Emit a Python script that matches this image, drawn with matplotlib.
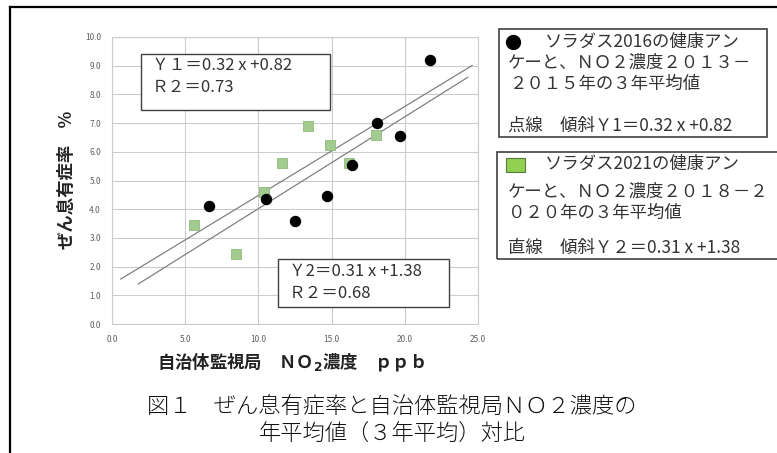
import matplotlib
matplotlib.use("Agg")
import matplotlib.pyplot as plt
from matplotlib.patches import Rectangle
from matplotlib.lines import Line2D
import numpy as np

plt.rcParams['font.family'] = ['Noto Sans CJK JP', 'DejaVu Sans']
plt.rcParams['mathtext.fontset'] = 'dejavusans'

# === data ===
# ソラダス2016 (NO2 2013-2015 3年平均)
no2_2016 = [6.6, 10.5, 12.5, 14.7, 16.4, 18.1, 19.7, 21.7]
rate_2016 = [4.1, 4.35, 3.6, 4.45, 5.55, 7.0, 6.55, 9.2]
# ソラダス2021 (NO2 2018-2020 3年平均)
no2_2021 = [5.6, 8.5, 10.4, 11.6, 13.4, 14.9, 16.2, 18.0]
rate_2021 = [3.45, 2.45, 4.6, 5.6, 6.9, 6.25, 5.6, 6.6]

# regression lines
fit1 = (0.32, 0.82)
fit2 = (0.31, 1.38)
fit1_x = [1.8, 24.3]
fit2_x = [0.6, 24.6]

x_ticks = [0, 5, 10, 15, 20, 25]
y_ticks = list(range(0, 11))

W, H = 777, 453


def fx(x):
    return x / W


def fy(y):
    return 1 - y / H


fig = plt.figure(figsize=(W / 100, H / 100), dpi=100)
ax = fig.add_axes([fx(112), fy(324), fx(478) - fx(112), fy(37) - fy(324)])

ax.set_xlim(0, 25)
ax.set_ylim(0, 10)
ax.set_xticks(x_ticks)
ax.set_yticks(y_ticks)
ax.set_xticklabels([f"{v:.1f}" for v in x_ticks])
ax.set_yticklabels([f"{v:.1f}" for v in y_ticks])
ax.tick_params(length=0, labelsize=6, labelcolor='#606060', pad=8)
ax.grid(True, color='#cccccc', lw=0.8)
ax.set_axisbelow(True)
for s in ax.spines.values():
    s.set_color('#cccccc')
    s.set_linewidth(0.8)

# trend lines
for (a, b), xs in [(fit1, fit1_x), (fit2, fit2_x)]:
    xs = np.array(xs)
    ax.plot(xs, a * xs + b, color='#808080', lw=0.9, zorder=2)

ax.scatter(no2_2021, rate_2021, marker='s', s=42, color='#a3cb8f',
           edgecolor='#8fbb7a', lw=0.6, zorder=3)
ax.scatter(no2_2016, rate_2016, marker='o', s=52, color='black', zorder=4)

# equation boxes inside the plot
fig.patches.append(Rectangle((fx(141), fy(110)), fx(330) - fx(141), fy(54) - fy(110),
                             transform=fig.transFigure, fill=True, facecolor='white',
                             edgecolor='#404040', lw=1.0, zorder=5))
fig.text(fx(152), fy(66), "Ｙ１＝0.32 x +0.82", fontsize=12, va='center', color='#333333', zorder=6)
fig.text(fx(152), fy(88), "Ｒ２＝0.73", fontsize=12, va='center', color='#333333', zorder=6)

fig.patches.append(Rectangle((fx(278), fy(307)), fx(449) - fx(278), fy(259) - fy(307),
                             transform=fig.transFigure, fill=True, facecolor='white',
                             edgecolor='#404040', lw=1.0, zorder=5))
fig.text(fx(289), fy(271), "Ｙ2＝0.31 x +1.38", fontsize=12, va='center', color='#333333', zorder=6)
fig.text(fx(289), fy(293), "Ｒ２＝0.68", fontsize=12, va='center', color='#333333', zorder=6)

# axis labels
fig.text(fx(67), fy(180), "ぜん息有症率　%", rotation=90, fontsize=12.5, fontweight='bold',
         ha='center', va='center', color='#222222')
fig.text(fx(157), fy(362), "自治体監視局　ＮＯ$_\\mathbf{2}$濃度　ｐｐｂ", fontsize=12.5,
         fontweight='bold', ha='left', va='center', color='#222222')

# legend boxes on the right
fig.patches.append(Rectangle((fx(499), fy(137)), fx(767) - fx(499), fy(29) - fy(137),
                             transform=fig.transFigure, fill=False, edgecolor='#404040', lw=1.2))
fig.add_artist(Line2D([fx(513)], [fy(42)], marker='o', markersize=10, color='black',
                      transform=fig.transFigure))
lfs = 12.5
fig.text(fx(545), fy(42), "ソラダス2016の健康アン", fontsize=lfs, va='center', color='#333333')
fig.text(fx(508), fy(63), "ケーと、ＮＯ２濃度２０１３－", fontsize=lfs, va='center', color='#333333')
fig.text(fx(510), fy(84), "２０１５年の３年平均値", fontsize=lfs, va='center', color='#333333')
fig.text(fx(508), fy(126), "点線　傾斜Ｙ1＝0.32 x +0.82", fontsize=lfs, va='center', color='#333333')

fig.patches.append(Rectangle((fx(497), fy(259)), fx(790) - fx(497), fy(152) - fy(259),
                             transform=fig.transFigure, fill=False, edgecolor='#404040', lw=1.2))
fig.patches.append(Rectangle((fx(506), fy(172)), fx(525) - fx(506), fy(158) - fy(172),
                             transform=fig.transFigure, facecolor='#92d050', edgecolor='#5a7a3a', lw=0.8))
fig.text(fx(545), fy(164), "ソラダス2021の健康アン", fontsize=lfs, va='center', color='#333333')
fig.text(fx(508), fy(192), "ケーと、ＮＯ２濃度２０１８－２", fontsize=lfs, va='center', color='#333333')
fig.text(fx(508), fy(213), "０２０年の３年平均値", fontsize=lfs, va='center', color='#333333')
fig.text(fx(508), fy(248), "直線　傾斜Ｙ２＝0.31 x +1.38", fontsize=lfs, va='center', color='#333333')

# caption
fig.text(fx(392), fy(407), "図１　ぜん息有症率と自治体監視局ＮＯ２濃度の", fontsize=16,
         fontweight='light', ha='center', va='center', color='#111111')
fig.text(fx(392), fy(435), "年平均値（３年平均）対比", fontsize=16,
         fontweight='light', ha='center', va='center', color='#111111')

# outer frame (top and left edges visible)
fig.add_artist(Line2D([fx(10), fx(777)], [fy(7), fy(7)], color='black', lw=1.6,
                      transform=fig.transFigure))
fig.add_artist(Line2D([fx(10), fx(10)], [fy(7), fy(453)], color='black', lw=1.6,
                      transform=fig.transFigure))

fig.savefig("out.png", dpi=100, facecolor='white')
plt.close(fig)
